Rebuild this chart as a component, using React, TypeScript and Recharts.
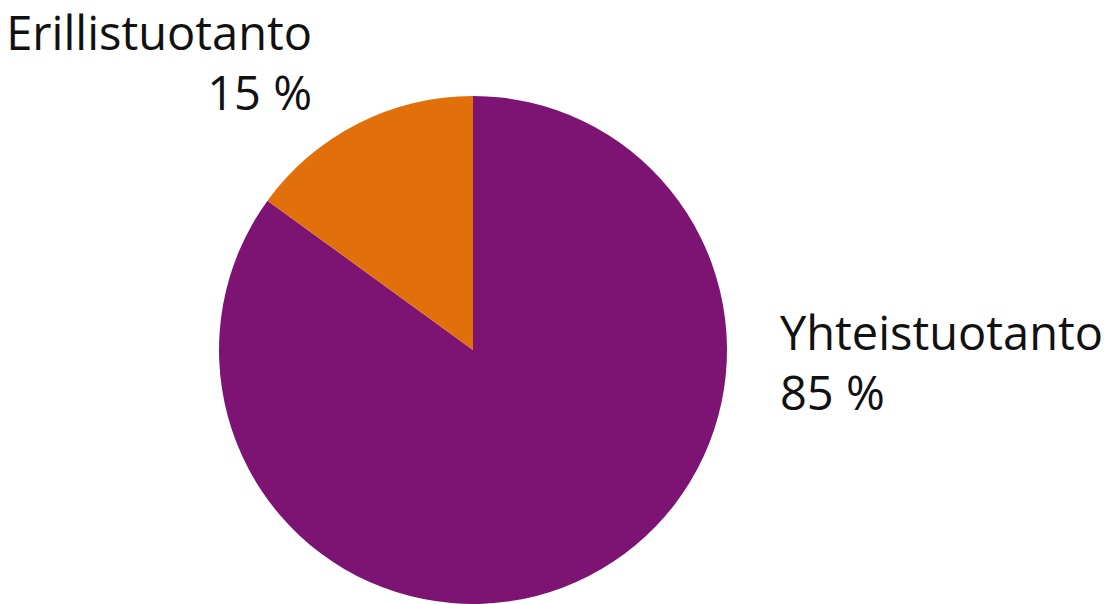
import React from 'react';
import { Cell, Pie, PieChart } from 'recharts';

const sliceNames = ['Yhteistuotanto', 'Erillistuotanto'];
const sliceValues = [85, 15];
const sliceColors = ['#7D1473', '#E1700A'];

// label placement relative to pie centre (text, not marks)
const labelOffsets = [
  { dx: 307, dy: 0, anchor: 'start' as const },
  { dx: -161, dy: -300, anchor: 'end' as const },
];

const data = sliceNames.map((name, i) => ({ name, value: sliceValues[i] }));

const renderLabel = (props: any) => {
  const { cx, cy, index, name, value } = props;
  const off = labelOffsets[index];
  const x = cx + off.dx;
  const y = cy + off.dy;
  return (
    <g key={`lbl-${index}`}>
      <text x={x} y={y} textAnchor={off.anchor} fill="#111" fontSize={47} fontFamily="Open Sans">
        {name}
      </text>
      <text x={x} y={y + 60} textAnchor={off.anchor} fill="#111" fontSize={47} fontFamily="Open Sans">
        {`${value} %`}
      </text>
    </g>
  );
};

export default function App() {
  return (
    <div style={{ position: 'absolute', left: 0, top: 0, background: '#fff' }}>
      <PieChart width={1108} height={604}>
        <Pie
          data={data}
          dataKey="value"
          nameKey="name"
          cx={468}
          cy={345}
          outerRadius={254}
          startAngle={90}
          endAngle={-270}
          stroke="none"
          label={renderLabel}
          labelLine={false}
          isAnimationActive={false}
        >
          {data.map((d, i) => (
            <Cell key={d.name} fill={sliceColors[i]} />
          ))}
        </Pie>
      </PieChart>
    </div>
  );
}
